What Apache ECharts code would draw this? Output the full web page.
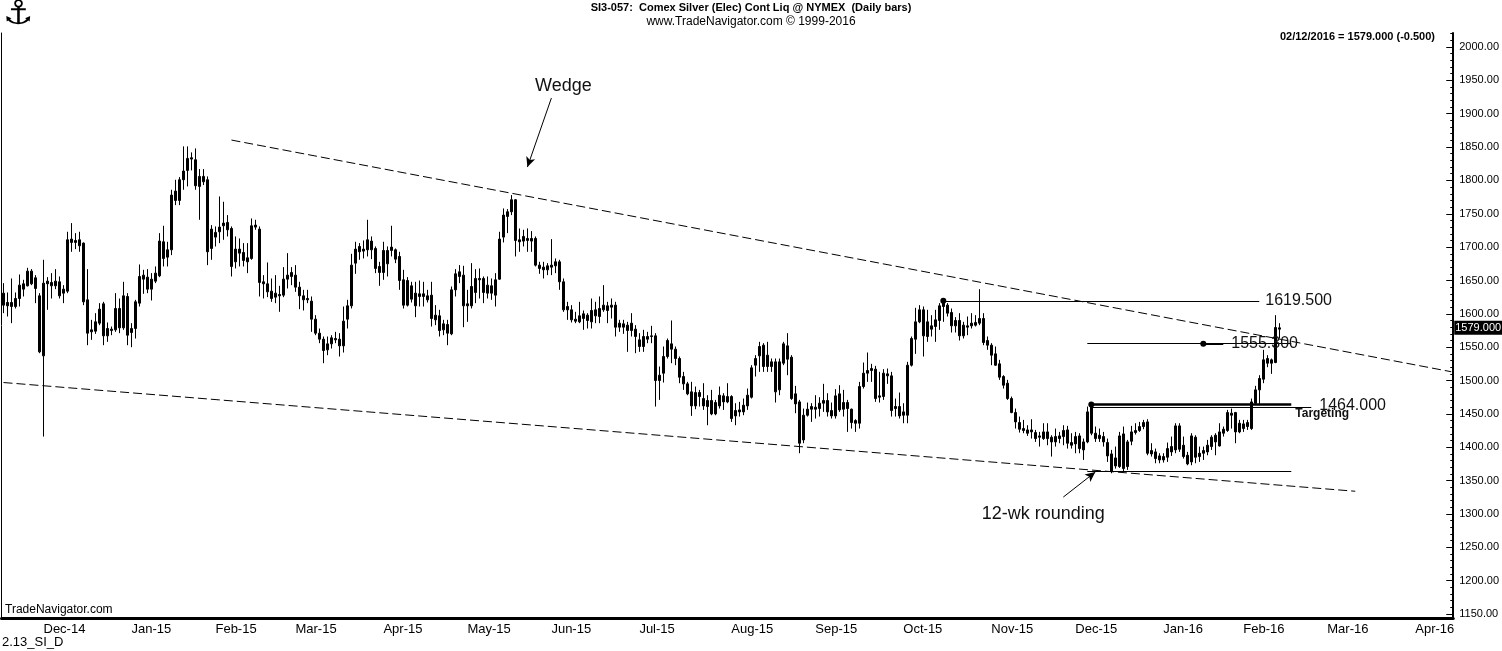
<!DOCTYPE html>
<html><head><meta charset="utf-8">
<script src="https://cdn.jsdelivr.net/npm/echarts@6/dist/echarts.min.js"></script>
<style>html,body{margin:0;padding:0;background:#fff}#c{width:1502px;height:651px}</style>
</head><body><div id="c"></div>
<script>
// ---- categories (trading days) ----
const startDate = '2014-11-14';
const categoryCount = 363;
const holidays = ['2014-11-27','2014-12-25','2015-01-01','2015-04-03','2015-12-25','2016-01-01','2016-03-25'];
const monthNames = ['Jan','Feb','Mar','Apr','May','Jun','Jul','Aug','Sep','Oct','Nov','Dec'];
// ---- y tick labels ----
const yTickValues = [1150,1200,1250,1300,1350,1400,1450,1500,1550,1600,1650,1700,1750,1800,1850,1900,1950,2000];
const yMinorStep = 10;
// ---- daily bars: [open, close, low, high] from 2014-11-14 ----
const ohlc = [
[1631,1613,1601,1646],[1617,1612,1596,1632],[1611,1617,1586,1653],[1611,1623,1608,1632],[1623,1643,1611,1659],
[1637,1645,1626,1651],[1642,1664,1641,1669],[1664,1645,1643,1667],[1654,1638,1616,1658],[1627,1543,1541,1631],
[1537,1646,1416,1681],[1649,1645,1606,1655],[1642,1647,1623,1661],[1642,1649,1637,1667],[1648,1627,1623,1656],
[1631,1637,1616,1643],[1634,1711,1631,1723],[1707,1712,1693,1736],[1710,1707,1697,1721],[1702,1711,1693,1723],
[1706,1618,1613,1707],[1621,1571,1553,1667],[1576,1573,1561,1591],[1574,1588,1570,1601],[1586,1607,1583,1616],
[1615,1567,1553,1618],[1567,1578,1558,1587],[1577,1575,1568,1581],[1576,1608,1573,1631],[1608,1579,1571,1623],
[1579,1627,1576,1648],[1626,1568,1553,1631],
[1572,1578,1550,1586],[1578,1618,1563,1621],[1616,1656,1611,1674],[1652,1658,1630,1666],[1655,1637,1631,1667],
[1637,1652,1620,1661],[1649,1661,1646,1671],[1657,1709,1655,1721],[1708,1683,1671,1732],[1685,1696,1671,1708],
[1696,1778,1688,1786],[1770,1784,1763,1801],[1770,1801,1763,1805],[1801,1814,1786,1851],[1815,1833,1791,1851],
[1832,1834,1815,1842],[1831,1792,1786,1848],[1791,1806,1741,1817],[1806,1798,1793,1817],[1801,1693,1673,1806],
[1698,1727,1681,1733],[1722,1715,1701,1731],[1723,1730,1706,1776],[1732,1736,1711,1768],[1737,1726,1716,1748],
[1728,1671,1656,1731],[1678,1697,1668,1716],[1697,1691,1671,1713],[1692,1680,1671,1706],[1678,1684,1661,1706],
[1683,1732,1681,1743],[1730,1733,1726,1741],[1727,1647,1626,1731],[1648,1645,1623,1658],[1645,1633,1625,1677],
[1634,1623,1618,1653],[1625,1631,1616,1658],[1629,1627,1603,1642],[1628,1652,1625,1670],[1652,1658,1638,1691],
[1656,1662,1643,1670],[1658,1640,1633,1673],[1640,1627,1607,1648],[1627,1621,1605,1636],[1621,1623,1616,1636],
[1619,1592,1573,1626],[1592,1571,1568,1598],[1571,1562,1556,1578],[1562,1545,1526,1566],[1546,1555,1538,1566],
[1555,1564,1548,1568],[1563,1561,1556,1573],[1562,1552,1536,1571],[1552,1589,1542,1611],[1592,1612,1578,1621],
[1612,1673,1608,1690],[1676,1697,1660,1708],[1693,1701,1681,1706],[1697,1694,1683,1710],[1696,1711,1686,1741],
[1709,1696,1682,1716],[1698,1668,1661,1701],[1671,1662,1642,1678],[1662,1695,1651,1708],[1695,1675,1656,1701],
[1695,1700,1686,1732],[1696,1682,1676,1698],[1686,1650,1636,1693],[1651,1613,1608,1666],[1613,1650,1611,1655],
[1642,1622,1617,1648],[1631,1612,1595,1648],[1626,1630,1611,1650],[1630,1626,1611,1648],[1627,1621,1617,1636],
[1628,1593,1581,1648],[1591,1598,1583,1613],[1597,1575,1566,1606],[1576,1585,1568,1591],[1584,1571,1553,1591],
[1570,1636,1568,1641],[1636,1660,1626,1667],[1656,1663,1646,1673],[1658,1612,1580,1672],[1612,1615,1588,1636],
[1612,1641,1608,1676],[1632,1653,1616,1667],[1653,1651,1623,1668],[1653,1632,1616,1656],[1631,1643,1623,1656],
[1642,1631,1621,1653],[1628,1651,1611,1661],[1652,1712,1651,1723],[1715,1748,1707,1758],[1746,1753,1721,1757],
[1753,1771,1748,1778],[1771,1710,1686,1772],[1708,1711,1693,1728],[1709,1716,1701,1726],[1713,1710,1693,1728],
[1709,1713,1693,1724],[1713,1673,1671,1716],[1673,1668,1660,1678],[1666,1670,1653,1678],[1672,1666,1658,1676],
[1670,1673,1658,1712],[1672,1678,1661,1683],[1678,1648,1636,1681],[1648,1606,1603,1653],[1606,1611,1591,1618],
[1606,1591,1587,1613],[1592,1589,1586,1603],[1588,1597,1586,1618],[1600,1593,1576,1605],[1590,1598,1578,1601],
[1588,1605,1578,1623],[1606,1597,1586,1618],[1596,1608,1586,1626],[1606,1613,1603,1643],[1612,1605,1586,1618],
[1610,1613,1593,1623],[1613,1580,1566,1618],[1580,1586,1573,1591],[1585,1580,1570,1591],[1575,1583,1543,1588],
[1586,1575,1566,1601],[1577,1566,1541,1583],[1561,1551,1543,1571],[1551,1566,1543,1576],[1562,1566,1556,1573],
[1566,1567,1556,1582],[1567,1500,1461,1571],[1500,1508,1471,1521],[1511,1536,1497,1551],[1536,1560,1533,1563],
[1555,1547,1526,1590],[1547,1533,1523,1551],[1533,1505,1496,1536],[1506,1495,1486,1513],[1495,1480,1478,1498],
[1483,1462,1447,1498],[1462,1482,1457,1491],[1482,1476,1461,1486],[1473,1462,1456,1496],[1461,1470,1433,1478],
[1470,1450,1448,1486],[1450,1467,1448,1471],[1462,1478,1458,1491],[1477,1468,1456,1481],[1468,1476,1466,1496],
[1476,1443,1438,1478],[1447,1455,1433,1466],[1453,1456,1446,1468],[1453,1463,1448,1473],[1462,1478,1456,1488],
[1475,1519,1473,1523],[1523,1533,1506,1538],[1537,1551,1513,1558],[1553,1521,1513,1556],[1521,1538,1513,1558],
[1528,1521,1513,1533],[1528,1483,1467,1533],[1486,1528,1478,1533],[1526,1555,1523,1558],[1552,1532,1508,1571],
[1535,1473,1471,1538],[1480,1465,1451,1492],[1468,1406,1391,1471],[1411,1448,1406,1458],[1448,1457,1446,1467],
[1457,1461,1438,1466],[1460,1457,1443,1478],[1458,1466,1446,1475],[1466,1470,1453,1495],[1470,1453,1446,1481],
[1455,1447,1443,1467],[1447,1477,1443,1487],[1480,1456,1453,1493],[1457,1467,1446,1486],[1467,1458,1423,1471],
[1457,1437,1428,1458],[1436,1440,1423,1442],[1436,1491,1428,1498],[1491,1511,1488,1527],[1511,1515,1498,1542],
[1515,1518,1498,1525],[1517,1473,1468,1522],[1475,1477,1467,1513],[1476,1511,1471,1517],[1510,1507,1495,1518],
[1507,1455,1446,1513],[1458,1461,1446,1473],[1461,1447,1443,1482],[1448,1453,1436,1466],[1448,1523,1436,1528],
[1523,1563,1521,1566],[1562,1588,1540,1609],[1588,1606,1586,1613],[1606,1567,1536,1611],[1566,1588,1558,1606],
[1577,1582,1566,1598],[1581,1591,1558,1606],[1590,1612,1576,1616],[1611,1618,1588,1619.5],[1613,1601,1596,1616],
[1602,1582,1572,1608],[1582,1590,1572,1595],[1590,1567,1560,1601],[1567,1583,1563,1588],[1582,1580,1568,1596],
[1582,1586,1578,1601],[1583,1587,1581,1598],[1586,1593,1583,1637],[1593,1557,1553,1601],[1560,1553,1546,1566],
[1553,1538,1523,1556],[1540,1523,1522,1551],[1525,1505,1501,1531],[1506,1493,1488,1508],[1496,1473,1471,1501],
[1473,1452,1451,1476],[1452,1438,1428,1458],[1437,1427,1422,1446],[1425,1428,1421,1441],[1426,1421,1417,1433],
[1423,1426,1413,1442],[1422,1413,1408,1426],[1415,1417,1401,1423],[1413,1423,1411,1436],[1423,1413,1403,1436],
[1415,1408,1386,1418],[1408,1416,1401,1428],[1413,1417,1406,1423],[1416,1425,1403,1433],[1426,1406,1398,1432],
[1403,1407,1398,1421],[1405,1416,1391,1423],[1417,1398,1391,1421],[1408,1396,1381,1413],[1408,1453,1406,1461],
[1461,1421,1418,1464],[1421,1413,1408,1431],[1413,1418,1408,1428],[1416,1408,1401,1423],[1407,1387,1378,1413],
[1390,1364,1361,1396],[1372,1384,1368,1401],[1371,1417,1369,1423],[1420,1368,1364,1431],[1371,1408,1366,1411],
[1409,1423,1403,1432],[1422,1425,1419,1436],[1425,1431,1423,1438],[1431,1437,1427,1441],[1438,1391,1388,1442],
[1390,1395,1386,1406],[1393,1383,1376,1398],[1381,1387,1376,1391],[1386,1381,1377,1391],[1385,1398,1378,1407],
[1393,1401,1387,1416],[1396,1432,1391,1436],[1432,1397,1393,1436],[1403,1386,1383,1416],[1388,1375,1373,1393],
[1378,1417,1373,1421],[1415,1385,1376,1418],[1386,1391,1378,1401],[1391,1395,1381,1401],[1393,1403,1388,1411],
[1401,1415,1396,1418],[1408,1418,1388,1421],[1402,1423,1401,1436],[1421,1427,1416,1431],[1425,1452,1423,1456],
[1451,1448,1428,1458],[1452,1423,1406,1453],[1423,1436,1421,1441],[1435,1428,1423,1441],[1431,1437,1426,1441],
[1428,1468,1426,1473],[1466,1486,1465,1492],[1486,1503,1463,1508],[1502,1531,1496,1546],[1533,1526,1520,1538],
[1526,1531,1510,1533],[1527,1579.5,1526,1598],[1577,1579,1563,1586]
];
const lastPrice = 1579;
// ---- annotation levels ----
const level1619 = 1619.5, level1555 = 1555.3, level1464 = 1464, level1460 = 1460.5, level1363 = 1363.5;

// build trading-day categories
const dates = [];
{
  let d = new Date(startDate + 'T00:00:00Z');
  while (dates.length < categoryCount) {
    const dow = d.getUTCDay();
    const s = d.toISOString().slice(0, 10);
    if (dow !== 0 && dow !== 6 && !holidays.includes(s)) dates.push(s);
    d.setUTCDate(d.getUTCDate() + 1);
  }
}
const monthStart = new Set();
for (let i = 1; i < dates.length; i++) if (dates[i].slice(5, 7) !== dates[i - 1].slice(5, 7)) monthStart.add(i);
const minorTicks = [];
for (let v = 1150; v <= 2020; v += yMinorStep) minorTicks.push(v);

const FONT = "'Liberation Sans', Arial, sans-serif";
const dash = [9, 4];
const chart = echarts.init(document.getElementById('c'), null, { renderer: 'canvas' });

function hline(i0, i1, v, w) {
  return [{ coord: [i0, v], lineStyle: { type: 'solid', width: w, color: '#000' } }, { coord: [i1, v] }];
}
function textPt(i, v, text, pos, size, weight) {
  return { coord: [i, v], symbol: 'circle', symbolSize: 0,
    label: { show: true, formatter: text, position: pos, distance: 0, fontSize: size, fontWeight: weight || 'normal', color: '#111', fontFamily: FONT } };
}
function dotPt(i, v) {
  return { coord: [i, v], symbol: 'circle', symbolSize: 6, itemStyle: { color: '#000' }, label: { show: false } };
}

chart.setOption({
  animation: false,
  backgroundColor: '#fff',
  title: [
    { text: 'SI3-057:  Comex Silver (Elec) Cont Liq @ NYMEX  (Daily bars)', subtext: 'www.TradeNavigator.com \u00a9 1999-2016',
      left: 'center', top: 2, itemGap: 3, padding: 0,
      textStyle: { fontSize: 11, fontWeight: 'bold', color: '#000', fontFamily: FONT },
      subtextStyle: { fontSize: 12, color: '#000', fontFamily: FONT } },
    { text: '02/12/2016 = 1579.000 (-0.500)', right: 67, top: 31, padding: 0,
      textStyle: { fontSize: 11, fontWeight: 'bold', color: '#000', fontFamily: FONT } },
    { text: '\u2693', left: 3, top: -2, padding: 0,
      textStyle: { fontSize: 34, fontWeight: 'bold', color: '#000', fontFamily: "'DejaVu Sans', sans-serif" } },
    { text: 'TradeNavigator.com', left: 5, top: 604, padding: 0,
      textStyle: { fontSize: 12, fontWeight: 'normal', color: '#000', fontFamily: FONT } },
    { text: '2.13_SI_D', left: 2, top: 636, padding: 0,
      textStyle: { fontSize: 13, fontWeight: 'normal', color: '#000', fontFamily: FONT } }
  ],
  grid: { left: 1.5, right: 48.5, top: 33, bottom: 33, containLabel: false },
  xAxis: {
    type: 'category', data: dates, boundaryGap: true,
    axisLine: { show: true, lineStyle: { color: '#000', width: 3 } },
    axisTick: { show: false },
    splitLine: { show: false },
    axisLabel: {
      interval: (i) => monthStart.has(i),
      formatter: (v) => monthNames[+v.slice(5, 7) - 1] + '-' + v.slice(2, 4),
      align: 'left', margin: 5, fontSize: 13, color: '#000',
      fontFamily: "'Liberation Sans Narrow', 'Arial Narrow', " + FONT
    }
  },
  yAxis: [
    { type: 'value', position: 'right', min: 1144, max: 2021, scale: true,
      axisLine: { show: true, lineStyle: { color: '#000', width: 2 } },
      axisTick: { show: true, inside: true, length: 7, customValues: yTickValues, lineStyle: { color: '#000', width: 1 } },
      axisLabel: { customValues: yTickValues, formatter: (v) => v.toFixed(2), fontSize: 11, color: '#000', margin: 6, fontFamily: FONT },
      splitLine: { show: false } },
    { type: 'value', position: 'right', min: 1144, max: 2021, scale: true,
      axisLine: { show: false },
      axisTick: { show: true, inside: true, length: 3, customValues: minorTicks, lineStyle: { color: '#000', width: 1 } },
      axisLabel: { show: false },
      splitLine: { show: false } },
    { type: 'value', position: 'left', min: 1144, max: 2021,
      axisLine: { show: true, lineStyle: { color: '#000', width: 1 } },
      axisTick: { show: false }, axisLabel: { show: false }, splitLine: { show: false } }
  ],
  series: [{
    type: 'candlestick', name: 'SI', yAxisIndex: 0, data: ohlc, barWidth: 2,
    itemStyle: { color: '#000', color0: '#000', borderColor: '#000', borderColor0: '#000', borderWidth: 1 },
    markLine: {
      silent: true, symbol: ['none', 'none'], animation: false,
      label: { show: false },
      lineStyle: { color: '#000', width: 1, type: 'solid' },
      data: [
        [{ coord: [57, 1860.5], lineStyle: { type: dash, width: 1, color: '#000' } }, { coord: [362, 1513.2] }],
        [{ coord: [0, 1497], lineStyle: { type: dash, width: 1, color: '#000' } }, { coord: [338, 1334] }],
        [{ coord: [235, level1619], lineStyle: { type: 'solid', width: 1, color: '#000' },
           label: { show: true, position: 'end', formatter: '1619.500', fontSize: 16, color: '#111', distance: 6, fontFamily: FONT } },
         { coord: [314, level1619] }],
        hline(271, 322, level1555, 1),
        hline(300, 305, level1555, 2),
        hline(272, 322, level1464, 2.5),
        hline(272, 327, level1460, 1),
        hline(271, 322, level1363, 1),
        [{ coord: [137, 1923.5], symbol: 'none', lineStyle: { type: 'solid', width: 1, color: '#000' } },
         { coord: [131, 1820], symbol: 'arrow', symbolSize: [7, 10] }],
        [{ coord: [265, 1325.3], symbol: 'none', lineStyle: { type: 'solid', width: 1, color: '#000' } },
         { coord: [273, 1362.8], symbol: 'arrow', symbolSize: [7, 10] }],
        { yAxis: lastPrice, lineStyle: { width: 1, color: 'rgba(0,0,0,0)' },
          label: { show: true, position: 'end', formatter: '1579.000', distance: 1, color: '#fff', backgroundColor: '#000',
                   fontSize: 11, padding: [2, 2, 1, 1], fontFamily: FONT } }
      ]
    },
    markPoint: {
      silent: true, animation: false,
      data: [
        textPt(140, 1941.5, 'Wedge', 'inside', 18),
        textPt(260, 1299.8, '12-wk rounding', 'inside', 18),
        textPt(307, level1555, '1555.300', 'right', 16),
        textPt(329, 1463, '1464.000', 'right', 16),
        textPt(323, 1450, 'Targeting', 'right', 12, 'bold'),
        dotPt(235, level1619),
        dotPt(272, level1464),
        dotPt(300, level1555)
      ]
    }
  }]
});
</script>
</body></html>
